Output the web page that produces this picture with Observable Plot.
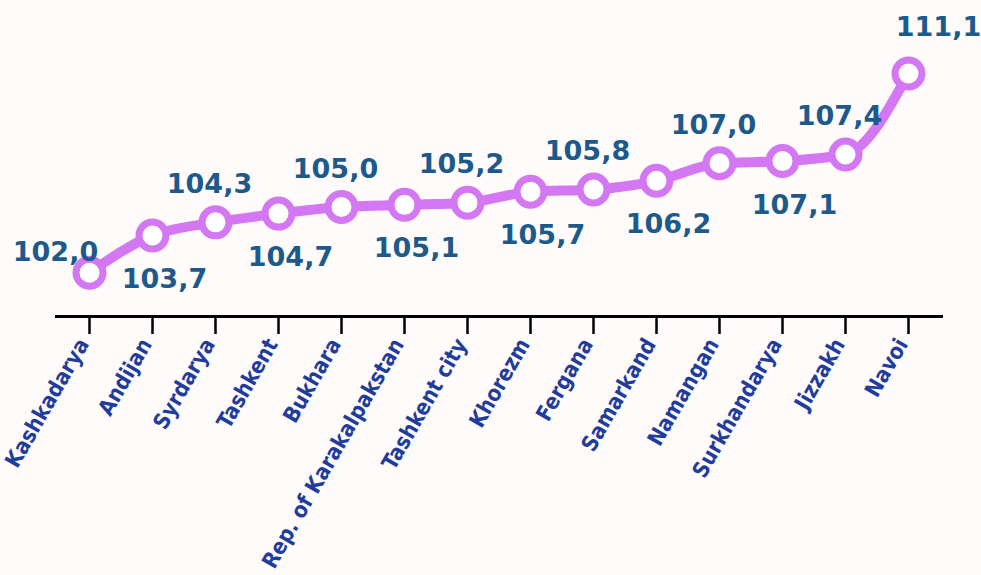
<!DOCTYPE html>
<html>
<head>
<meta charset="utf-8">
<script src="https://cdn.jsdelivr.net/npm/d3@7"></script>
<script src="https://cdn.jsdelivr.net/npm/@observablehq/plot@0.6"></script>
<style>
  html, body { margin: 0; padding: 0; background: #fffbfa; }
  #chart svg { display: block; background: #fffbfa; }
</style>
</head>
<body>
<div id="chart"></div>
<script>
const regions = ["Kashkadarya","Andijan","Syrdarya","Tashkent","Bukhara","Rep. of Karakalpakstan","Tashkent city","Khorezm","Fergana","Samarkand","Namangan","Surkhandarya","Jizzakh","Navoi"];
const values = [102.0,103.7,104.3,104.7,105.0,105.1,105.2,105.7,105.8,106.2,107.0,107.1,107.4,111.1];
// label placement: "left", "above", "below", "right"
const labelSide = ["left","below","above","below","above","below","above","below","above","below","above","below","above","right"];

const data = regions.map((r, i) => ({region: r, value: values[i], side: labelSide[i]}));
const fmt = v => v.toFixed(1).replace(".", ",");

const lineColor = "#d377f2";
const valueColor = "#1d5a8c";
const tickColor = "#1f3d9c";
const valueFont = "'DejaVu Sans', sans-serif";

const sides = {
  left:  {dx: -34, dy: -20},
  above: {dx: -6,  dy: -38},
  below: {dx: 12,  dy: 44},
  right: {dx: 30,  dy: -46}
};

const labelMarks = Object.entries(sides).map(([s, o]) =>
  Plot.text(data.filter(d => d.side === s), {
    x: "region", y: "value", text: d => fmt(d.value),
    dx: o.dx, dy: o.dy, fill: valueColor, fontSize: 27, fontWeight: "bold",
    fontFamily: valueFont, textAnchor: "middle"
  })
);

const chart = Plot.plot({
  width: 981,
  height: 575,
  marginTop: 73,
  marginBottom: 259,
  marginLeft: 55,
  marginRight: 38,
  style: {background: "#fffbfa", overflow: "visible"},
  x: {type: "point", domain: regions, range: [86.5, 910], padding: 0, label: null},
  y: {domain: [100, 111.1], axis: null},
  marks: [
    Plot.ruleY([100], {stroke: "black", strokeWidth: 3}),
    Plot.axisX({text: null, tickSize: 18, stroke: "black", strokeWidth: 2.5, label: null}),
    Plot.text(regions, {x: d => d, frameAnchor: "bottom", dy: 24, dx: -6, rotate: -60,
      textAnchor: "end", lineAnchor: "middle", fill: tickColor, fontSize: 22, fontWeight: "bold",
      fontFamily: "'DejaVu Sans Condensed', 'DejaVu Sans', sans-serif"}),
    Plot.line(data, {x: "region", y: "value", stroke: lineColor, strokeWidth: 10, curve: "monotone-x"}),
    Plot.dot(data, {x: "region", y: "value", r: 13.5, fill: "white", stroke: lineColor, strokeWidth: 7}),
    ...labelMarks
  ]
});
document.getElementById("chart").appendChild(chart);
</script>
</body>
</html>
